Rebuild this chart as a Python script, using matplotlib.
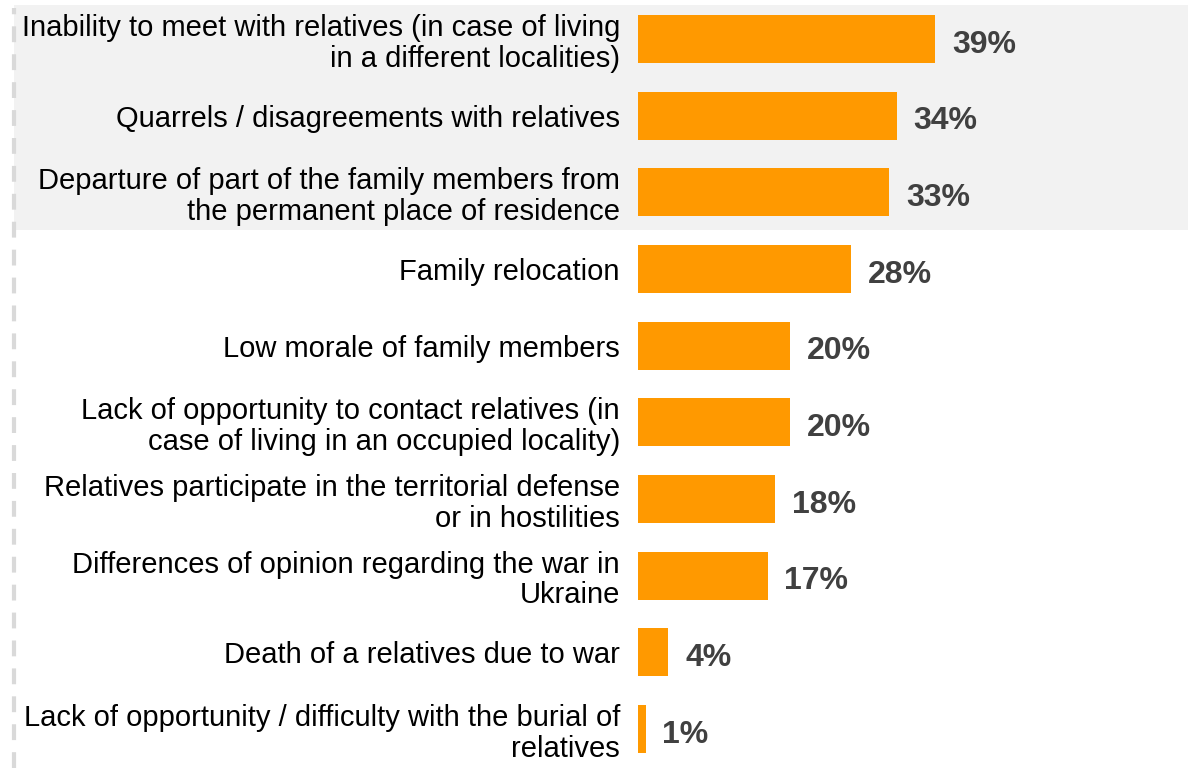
import matplotlib.pyplot as plt
from matplotlib.patches import Rectangle
from matplotlib.lines import Line2D

plt.rcParams['font.family'] = ['Liberation Sans', 'DejaVu Sans']

categories = [
    'Inability to meet with relatives (in case of living\nin a different localities)',
    'Quarrels / disagreements with relatives',
    'Departure of part of the family members from\nthe permanent place of residence',
    'Family relocation',
    'Low morale of family members',
    'Lack of opportunity to contact relatives (in\ncase of living in an occupied locality)',
    'Relatives participate in the territorial defense\nor in hostilities',
    'Differences of opinion regarding the war in\nUkraine',
    'Death of a relatives due to war',
    'Lack of opportunity / difficulty with the burial of\nrelatives',
]
values = [39, 34, 33, 28, 20, 20, 18, 17, 4, 1]
labels = ['39%', '34%', '33%', '28%', '20%', '20%', '18%', '17%', '4%', '1%']

W, H = 1192, 768
fig = plt.figure(figsize=(W / 100, H / 100), dpi=100)

# grey band behind the top three rows
fig.patches.append(Rectangle((14 / W, 1 - 230 / H), (1188 - 14) / W, (230 - 5) / H,
                             transform=fig.transFigure, facecolor='#f2f2f2',
                             edgecolor='none', zorder=-5))
# dashed line on the left
fig.lines.append(Line2D([14 / W, 14 / W], [0, 1 - 8 / H], transform=fig.transFigure,
                        color='#d9d9d9', lw=3, dashes=(3.8, 2.9), zorder=-4))

ax = fig.add_axes([638 / W, 0, (1188 - 638) / W, 1])
ax.patch.set_alpha(0)
pitch = 76.67
ax.set_ylim((H - 39) / pitch, -39 / pitch)
ax.set_xlim(0, 550 / 7.62)

pos = range(len(values))
ax.barh(pos, values, height=48 / pitch, color='#ff9900', zorder=2)
for p, v, t in zip(pos, values, labels):
    ax.annotate(t, (v, p), xytext=(12, -4), textcoords='offset points',
                va='center', ha='left', fontsize=23, fontweight='bold', color='#404040')

ax.set_yticks(list(pos))
ax.set_yticklabels(categories, fontsize=21, color='#000000', linespacing=1.12)
ax.tick_params(axis='y', length=0, pad=13)
ax.set_xticks([])
for s in ax.spines.values():
    s.set_visible(False)

fig.savefig('out.png', dpi=100)
